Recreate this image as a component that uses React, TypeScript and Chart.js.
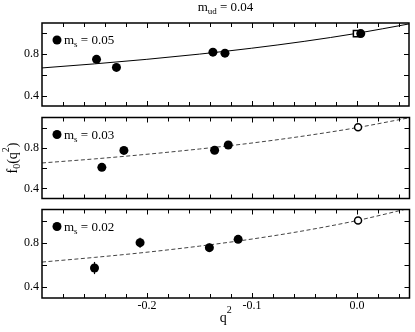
import React, { useEffect, useRef } from 'react';
import { Chart, registerables } from 'chart.js';

Chart.register(...registerables);

const FONT = '"Liberation Serif", "Times New Roman", serif';

// axis ranges and tick labels
const X_MIN = -0.3;
const X_MAX = 0.05;
const Y_MIN = 0.3;
const Y_MAX = 1.1;
const xTickValues = [-0.2, -0.1, 0.0];
const xTickLabels = ['-0.2', '-0.1', '0.0'];
const yTickValues = [0.4, 0.8];
const yTickLabels = ['0.4', '0.8'];
const yFrameTicks = [0.4, 0.6, 0.8, 1.0];

// titles
const mudValue = '0.04';
const msValues = ['0.05', '0.03', '0.02'];

// m_s = 0.05
const q2Ms05 = [-0.248, -0.229, -0.137, -0.1255, 0.004];
const fMs05 = [0.75, 0.672, 0.819, 0.809, 0.998];
const errMs05 = [0.012, 0.012, 0.01, 0.01, 0.008];
const openQ2Ms05 = [0.0];
const openFMs05 = [0.998];

// m_s = 0.03
const q2Ms03 = [-0.243, -0.222, -0.1356, -0.1226];
const fMs03 = [0.608, 0.775, 0.777, 0.828];
const errMs03 = [0.025, 0.02, 0.02, 0.015];
const openQ2Ms03 = [0.001];
const openFMs03 = [1.003];

// m_s = 0.02
const q2Ms02 = [-0.25, -0.2066, -0.1406, -0.1132];
const fMs02 = [0.571, 0.8, 0.755, 0.83];
const errMs02 = [0.055, 0.045, 0.038, 0.02];
const openQ2Ms02 = [0.001];
const openFMs02 = [1.0];

// fitted curves
const fitQ2 = [-0.3, -0.25, -0.2, -0.15, -0.1, -0.05, 0.0, 0.05];
const fitMs05 = [0.667, 0.706, 0.75, 0.8, 0.857, 0.923, 1.0, 1.091];
const fitMs03 = [0.651, 0.691, 0.737, 0.789, 0.848, 0.918, 1.0, 1.098];
const fitMs02 = [0.625, 0.667, 0.714, 0.769, 0.833, 0.909, 1.0, 1.111];

type PanelData = {
  ms: string;
  q2: number[];
  f: number[];
  err: number[];
  openQ2: number[];
  openF: number[];
  openStyle: 'rect' | 'circle';
  fit: number[];
  dashed: boolean;
};

const panelData: PanelData[] = [
  { ms: msValues[0], q2: q2Ms05, f: fMs05, err: errMs05, openQ2: openQ2Ms05, openF: openFMs05, openStyle: 'rect', fit: fitMs05, dashed: false },
  { ms: msValues[1], q2: q2Ms03, f: fMs03, err: errMs03, openQ2: openQ2Ms03, openF: openFMs03, openStyle: 'circle', fit: fitMs03, dashed: true },
  { ms: msValues[2], q2: q2Ms02, f: fMs02, err: errMs02, openQ2: openQ2Ms02, openF: openFMs02, openStyle: 'circle', fit: fitMs02, dashed: true },
];

type Part = { t: string; size: number; dy: number };

function drawRich(ctx: CanvasRenderingContext2D, parts: Part[], x: number, y: number, align: 'left' | 'center') {
  let total = 0;
  const widths = parts.map((p) => {
    ctx.font = `${p.size}px ${FONT}`;
    const w = ctx.measureText(p.t).width;
    total += w;
    return w;
  });
  let cx = align === 'center' ? x - total / 2 : x;
  ctx.textAlign = 'left';
  ctx.textBaseline = 'alphabetic';
  parts.forEach((p, i) => {
    ctx.font = `${p.size}px ${FONT}`;
    ctx.fillText(p.t, cx, y + p.dy);
    cx += widths[i];
  });
}

type PanelProps = {
  idx: number;
  top: number;
  height: number;
  padTop: number;
  padBottom: number;
  showX: boolean;
};

function Panel({ idx, top, height, padTop, padBottom, showX }: PanelProps) {
  const ref = useRef<HTMLCanvasElement>(null);

  useEffect(() => {
    const p = panelData[idx];
    const framePlugin = {
      id: 'frame' + idx,
      beforeDatasetsDraw(chart: any) {
        const { ctx, scales } = chart;
        const xs = scales.x;
        const ys = scales.y;
        ctx.save();
        ctx.strokeStyle = '#000';
        ctx.lineWidth = 1.2;
        p.q2.forEach((q, i) => {
          const px = xs.getPixelForValue(q);
          ctx.beginPath();
          ctx.moveTo(px, ys.getPixelForValue(p.f[i] - p.err[i]));
          ctx.lineTo(px, ys.getPixelForValue(p.f[i] + p.err[i]));
          ctx.stroke();
        });
        ctx.restore();
      },
      afterDraw(chart: any) {
        const { ctx, chartArea, scales } = chart;
        const { left, right, top: t, bottom } = chartArea;
        const xs = scales.x;
        const ys = scales.y;
        ctx.save();
        ctx.strokeStyle = '#000';
        ctx.lineWidth = 1.5;
        ctx.strokeRect(left, t, right - left, bottom - t);
        ctx.lineWidth = 1;
        // x ticks (inward, top and bottom)
        for (let k = 1; k <= 17; k++) {
          const v = X_MIN + k * 0.02;
          const major = Math.abs(v * 10 - Math.round(v * 10)) < 1e-6;
          const len = major ? 5 : 4;
          const px = Math.round(xs.getPixelForValue(v)) + 0.5;
          ctx.beginPath();
          ctx.moveTo(px, t);
          ctx.lineTo(px, t + len);
          ctx.moveTo(px, bottom);
          ctx.lineTo(px, bottom - len);
          ctx.stroke();
        }
        yFrameTicks.forEach((v) => {
          const py = Math.round(ys.getPixelForValue(v)) + 0.5;
          ctx.beginPath();
          ctx.moveTo(left, py);
          ctx.lineTo(left + 5, py);
          ctx.moveTo(right, py);
          ctx.lineTo(right - 5, py);
          ctx.stroke();
        });
        // legend
        ctx.fillStyle = '#000';
        ctx.beginPath();
        ctx.arc(left + 15, t + 17, 4.5, 0, Math.PI * 2);
        ctx.fill();
        drawRich(ctx, [
          { t: 'm', size: 13, dy: 0 },
          { t: 's', size: 9, dy: 3 },
          { t: ' = ' + p.ms, size: 13, dy: 0 },
        ], left + 22, t + 21, 'left');

        if (idx === 0) {
          drawRich(ctx, [
            { t: 'm', size: 13, dy: 0 },
            { t: 'ud', size: 9, dy: 3 },
            { t: ' = ' + mudValue, size: 13, dy: 0 },
          ], (left + right) / 2, 11, 'center');
        }
        if (idx === 1) {
          ctx.save();
          ctx.translate(17, (t + bottom) / 2);
          ctx.rotate(-Math.PI / 2);
          drawRich(ctx, [
            { t: 'f', size: 14, dy: 0 },
            { t: '0', size: 10, dy: 3 },
            { t: '(q', size: 14, dy: 0 },
            { t: '2', size: 10, dy: -8 },
            { t: ')', size: 14, dy: 0 },
          ], 0, 0, 'center');
          ctx.restore();
        }
        if (idx === 2) {
          drawRich(ctx, [
            { t: 'q', size: 14, dy: 0 },
            { t: '2', size: 10, dy: -9 },
          ], (left + right) / 2, bottom + 24, 'center');
        }
        ctx.restore();
      },
    };

    const chart = new Chart(ref.current as HTMLCanvasElement, {
      type: 'scatter',
      data: {
        datasets: [
          {
            data: p.q2.map((x, i) => ({ x, y: p.f[i] })),
            pointRadius: 4.5,
            pointBackgroundColor: '#000',
            pointBorderColor: '#000',
            pointBorderWidth: 0,
            order: 0,
          } as any,
          {
            data: p.openQ2.map((x, i) => ({ x, y: p.openF[i] })),
            pointStyle: p.openStyle,
            pointRadius: p.openStyle === 'rect' ? 4.5 : 3.5,
            pointBackgroundColor: '#fff',
            pointBorderColor: '#000',
            pointBorderWidth: 1.5,
            order: 1,
          },
          {
            data: fitQ2.map((x, i) => ({ x, y: p.fit[i] })),
            showLine: true,
            pointRadius: 0,
            borderColor: p.dashed ? '#444' : '#000',
            borderWidth: 1,
            borderDash: p.dashed ? [4, 2.5] : [],
            cubicInterpolationMode: 'monotone',
            order: 2,
          },
        ],
      },
      options: {
        responsive: false,
        animation: false,
        events: [],
        layout: { padding: { top: padTop, bottom: padBottom, left: 0, right: 1 } },
        plugins: {
          legend: { display: false },
          tooltip: { enabled: false },
          title: { display: false },
        },
        scales: {
          x: {
            type: 'linear',
            min: X_MIN,
            max: X_MAX,
            display: showX,
            grid: { display: false, drawTicks: false },
            border: { display: false },
            ticks: {
              font: { family: FONT, size: 12 },
              color: '#000',
              padding: 1,
              maxRotation: 0,
              autoSkip: false,
              callback: (v: any) => {
                const i = xTickValues.findIndex((t) => Math.abs(t - Number(v)) < 1e-9);
                return i >= 0 ? xTickLabels[i] : '';
              },
            },
            afterBuildTicks: (s: any) => {
              s.ticks = xTickValues.map((value) => ({ value }));
            },
            afterFit: (s: any) => {
              s.height = showX ? 34 : 0;
              s.paddingLeft = 0;
              s.paddingRight = 0;
            },
          },
          y: {
            type: 'linear',
            min: Y_MIN,
            max: Y_MAX,
            grid: { display: false, drawTicks: false },
            border: { display: false },
            ticks: {
              font: { family: FONT, size: 12 },
              color: '#000',
              padding: 3,
              autoSkip: false,
              callback: (v: any) => {
                const i = yTickValues.findIndex((t) => Math.abs(t - Number(v)) < 1e-9);
                return i >= 0 ? yTickLabels[i] : '';
              },
            },
            afterBuildTicks: (s: any) => {
              s.ticks = yTickValues.map((value) => ({ value }));
            },
            afterFit: (s: any) => {
              s.width = 42;
              s.paddingTop = 0;
              s.paddingBottom = 0;
            },
          },
        },
      } as any,
      plugins: [framePlugin],
    });
    return () => chart.destroy();
  }, [idx]);

  return (
    <canvas
      ref={ref}
      width={415}
      height={height}
      style={{ position: 'absolute', left: 0, top, width: 415, height, display: 'block' }}
    />
  );
}

export default function App() {
  return (
    <div style={{ position: 'fixed', left: 0, top: 0, width: 415, height: 332, background: '#fff', overflow: 'hidden' }}>
      <Panel idx={0} top={0} height={112} padTop={23} padBottom={3} showX={false} />
      <Panel idx={1} top={112} height={92} padTop={4} padBottom={2} showX={false} />
      <Panel idx={2} top={204} height={128} padTop={5} padBottom={0} showX={true} />
    </div>
  );
}
